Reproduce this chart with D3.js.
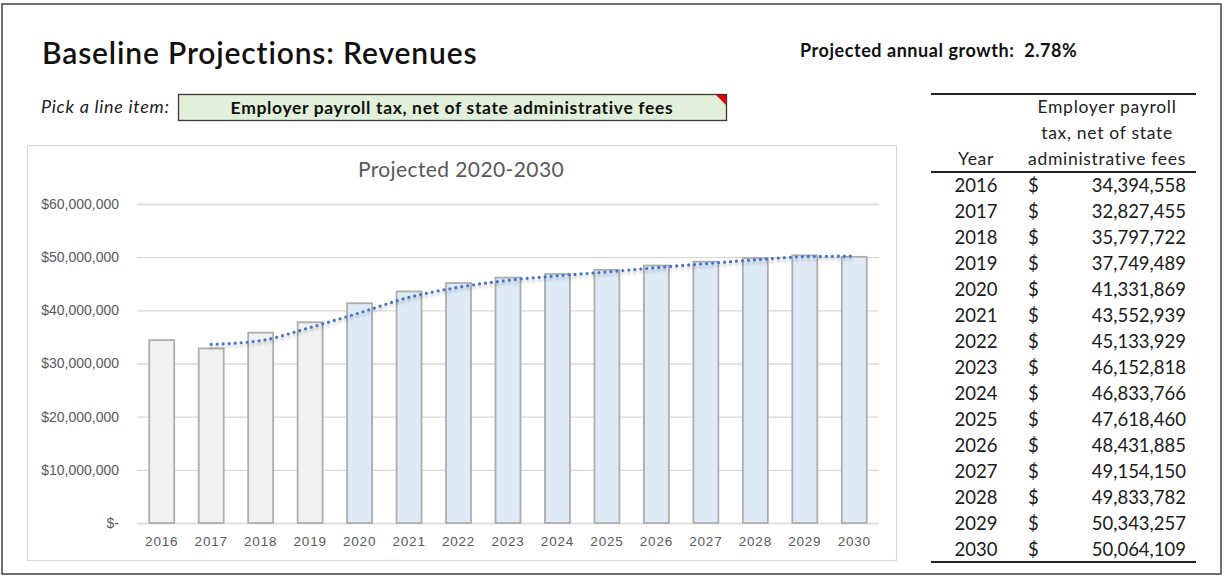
<!DOCTYPE html>
<html>
<head>
<meta charset="utf-8">
<script src="https://cdn.jsdelivr.net/npm/d3@7"></script>
<style>
  html, body { margin: 0; padding: 0; background: #fff; }
  svg { display: block; }
  text { white-space: pre; }
</style>
</head>
<body>
<svg id="sheet" width="1225" height="576"></svg>
<script>
// ---- Data ----
const years = ["2016","2017","2018","2019","2020","2021","2022","2023","2024","2025","2026","2027","2028","2029","2030"];
const revenues = [34394558, 32827455, 35797722, 37749489, 41331869, 43552939, 45133929, 46152818, 46833766, 47618460, 48431885, 49154150, 49833782, 50343257, 50064109];
const firstProjectedYear = "2020";
const yTicks = [0, 10000000, 20000000, 30000000, 40000000, 50000000, 60000000];
const lineItem = "Employer payroll tax, net of state administrative fees";
const headerLines = ["Employer payroll", "tax, net of state", "administrative fees"];
const growthText = "Projected annual growth:  2.78%";

// Two-period moving-average trendline (as a spreadsheet trendline computes it)
function movingAverage(values, period) {
  const out = [];
  for (let i = period - 1; i < values.length; i++) {
    out.push({ i, v: d3.mean(values.slice(i - period + 1, i + 1)) });
  }
  return out;
}
const trend = movingAverage(revenues, 2);

const svg = d3.select("#sheet");
const FONT = "Lato, 'Noto Sans', sans-serif";
const AXIS_FONT = "'Liberation Sans', Arial, sans-serif";

// ---- Outer frame ----
svg.append("rect").attr("x", 2).attr("y", 4).attr("width", 1219).attr("height", 570)
  .attr("fill", "none").attr("stroke", "#4d4d4d").attr("stroke-width", 1.6);

// ---- Header texts ----
svg.append("text").attr("x", 42).attr("y", 64)
  .attr("font-family", FONT).attr("font-weight", 600).attr("font-size", 30)
  .attr("letter-spacing", 0.85)
  .attr("fill", "#111").text("Baseline Projections: Revenues");

svg.append("text").attr("x", 800).attr("y", 57)
  .attr("font-family", FONT).attr("font-weight", 700).attr("font-size", 18)
  .attr("letter-spacing", 0.55)
  .attr("fill", "#111").text(growthText);

svg.append("text").attr("x", 41).attr("y", 113)
  .attr("font-family", FONT).attr("font-style", "italic").attr("font-size", 18)
  .attr("letter-spacing", 0.7)
  .attr("fill", "#222").text("Pick a line item:");

// Drop-down cell
svg.append("rect").attr("x", 178.5).attr("y", 94.5).attr("width", 548).attr("height", 26)
  .attr("fill", "#e2efda").attr("stroke", "#3a3a3a").attr("stroke-width", 1.3);
svg.append("path").attr("d", "M716,95 L726,95 L726,105 Z").attr("fill", "#e00000");
svg.append("text").attr("x", 452).attr("y", 113.5).attr("text-anchor", "middle")
  .attr("font-family", FONT).attr("font-weight", 700).attr("font-size", 17.5)
  .attr("letter-spacing", 0.65)
  .attr("fill", "#111").text(lineItem);

// ---- Chart ----
svg.append("rect").attr("x", 27.5).attr("y", 145.5).attr("width", 869).attr("height", 415)
  .attr("fill", "#fff").attr("stroke", "#d9d9d9").attr("stroke-width", 1.2);

svg.append("text").attr("x", 461).attr("y", 177).attr("text-anchor", "middle")
  .attr("font-family", FONT).attr("font-size", 21).attr("letter-spacing", 0.4)
  .attr("fill", "#595959")
  .text("Projected 2020-2030");

const x = d3.scaleBand().domain(years).range([137, 879]).paddingInner(0.495).paddingOuter(0.2475);
const y = d3.scaleLinear().domain([0, 60000000]).range([523, 204]);

const fmtMoney = v => v === 0 ? "$-" : "$" + d3.format(",")(v);

const yAxis = svg.append("g").attr("transform", "translate(137,0)")
  .call(d3.axisLeft(y).tickValues(yTicks).tickSize(-742).tickPadding(18).tickFormat(fmtMoney));
yAxis.select(".domain").remove();
yAxis.selectAll(".tick line").attr("stroke", "#d9d9d9").attr("stroke-width", 1.3);
yAxis.selectAll(".tick text").attr("font-family", AXIS_FONT)
  .attr("font-size", 14).attr("fill", "#595959");

// Bars
svg.append("g").selectAll("rect").data(years).join("rect")
  .attr("x", d => x(d))
  .attr("y", (d, i) => y(revenues[i]))
  .attr("width", x.bandwidth())
  .attr("height", (d, i) => y(0) - y(revenues[i]))
  .attr("fill", d => +d >= +firstProjectedYear ? "#deebf7" : "#f2f2f2")
  .attr("stroke", "#adadad").attr("stroke-width", 1.8);

const xAxis = svg.append("g").attr("transform", "translate(0,523)")
  .call(d3.axisBottom(x).tickSize(0).tickPadding(13.5));
xAxis.select(".domain").remove();
xAxis.selectAll(".tick text").attr("font-family", AXIS_FONT)
  .attr("font-size", 13.5).attr("letter-spacing", 0.8).attr("fill", "#595959");

// Trendline with soft shadow
const defs = svg.append("defs");
const f = defs.append("filter").attr("id", "shadow").attr("x", "-5%").attr("y", "-50%")
  .attr("width", "110%").attr("height", "200%");
f.append("feDropShadow").attr("dx", 0).attr("dy", 2.5).attr("stdDeviation", 1.6)
  .attr("flood-color", "#000").attr("flood-opacity", 0.28);

const line = d3.line()
  .x(d => x(years[d.i]) + x.bandwidth() / 2)
  .y(d => y(d.v))
  .curve(d3.curveMonotoneX);

svg.append("path").datum(trend).attr("d", line)
  .attr("fill", "none").attr("stroke", "#4472c4").attr("stroke-width", 3.2)
  .attr("stroke-linecap", "round").attr("stroke-dasharray", "0 6")
  .attr("filter", "url(#shadow)");

// ---- Table ----
const tbl = svg.append("g");
const tx0 = 931, tx1 = 1196;
tbl.append("line").attr("x1", tx0).attr("x2", tx1).attr("y1", 94).attr("y2", 94)
  .attr("stroke", "#222").attr("stroke-width", 1.8);
tbl.append("line").attr("x1", tx0).attr("x2", tx1).attr("y1", 172).attr("y2", 172)
  .attr("stroke", "#222").attr("stroke-width", 1.8);
tbl.append("line").attr("x1", tx0).attr("x2", tx1).attr("y1", 562).attr("y2", 562)
  .attr("stroke", "#222").attr("stroke-width", 1.8);

tbl.selectAll("text.hdr").data(headerLines).join("text").attr("class", "hdr")
  .attr("x", 1107).attr("y", (d, i) => 113 + i * 26).attr("text-anchor", "middle")
  .attr("font-family", FONT).attr("font-size", 17.5).attr("letter-spacing", 0.7)
  .attr("fill", "#222").text(d => d);
tbl.append("text").attr("x", 976).attr("y", 165).attr("text-anchor", "middle")
  .attr("font-family", FONT).attr("font-size", 17.5).attr("letter-spacing", 0.7)
  .attr("fill", "#222").text("Year");

const rowY = d3.scalePoint().domain(years).range([192, 192 + 26 * (years.length - 1)]);
const rows = tbl.selectAll("g.row").data(years).join("g").attr("class", "row")
  .attr("font-family", FONT).attr("font-size", 18.5).attr("fill", "#1a1a1a");
rows.append("text").attr("x", 976).attr("y", d => rowY(d)).attr("text-anchor", "middle").text(d => d);
rows.append("text").attr("x", 1028).attr("y", d => rowY(d)).text("$");
rows.append("text").attr("x", 1186).attr("y", d => rowY(d)).attr("text-anchor", "end")
  .text((d, i) => d3.format(",")(revenues[i]));
</script>
</body>
</html>
